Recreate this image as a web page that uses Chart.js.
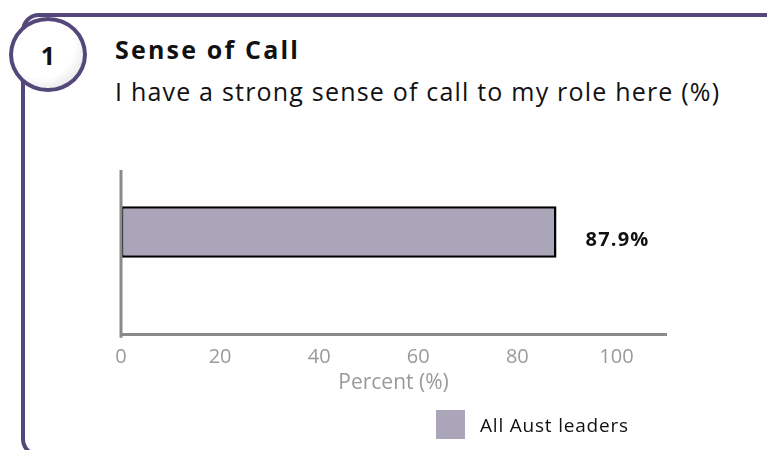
<!DOCTYPE html>
<html>
<head>
<meta charset="utf-8">
<script src="https://cdn.jsdelivr.net/npm/chart.js@4"></script>
<style>
    html, body { margin: 0; padding: 0; background: #fff; }
    body { width: 767px; height: 450px; position: relative; overflow: hidden; font-family: 'Open Sans', sans-serif; }
    .frame {
        position: absolute; left: 21px; top: 13px; width: 770px; height: 444px;
        border: 4px solid #54487a; border-radius: 18px; box-sizing: border-box;
    }
    .badge {
        position: absolute; left: 9px; top: 17px; width: 78px; height: 75px;
        border: 4px solid #54487a; border-radius: 50%; box-sizing: border-box;
        background: radial-gradient(circle at 40% 35%, #ffffff 55%, #e4e4e4 85%, #cfcfcf 100%);
        font-weight: bold; font-size: 25px; color: #111;
        display: flex; align-items: center; justify-content: center;
    }
    .title { position: absolute; left: 115px; top: 32px; font-size: 25px; font-weight: bold; letter-spacing: 2.2px; color: #111; }
    .subtitle { position: absolute; left: 115px; top: 74px; font-size: 25px; letter-spacing: 1.2px; color: #111; }
    .legend { position: absolute; left: 436px; top: 410px; display: flex; align-items: center; font-size: 19px; letter-spacing: 0.8px; color: #111; }
    .legend .swatch { width: 29px; height: 29px; background: #aba5ba; margin-right: 15px; }
    #chart { position: absolute; left: 0; top: 0; }
</style>
</head>
<body>
<div class="frame"></div>
<div class="badge">1</div>
<div class="title">Sense of Call</div>
<div class="subtitle">I have a strong sense of call to my role here (%)</div>
<canvas id="chart" width="767" height="450"></canvas>
<div class="legend"><div class="swatch"></div><span>All Aust leaders</span></div>

<script>
const categories = [''];
const seriesName = 'All Aust leaders';
const values = [87.9];
const tickValues = [0, 20, 40, 60, 80, 100];

// draws the grey y axis line and the value label beside the bar
const extras = {
    id: 'extras',
    afterDatasetsDraw(chart) {
        const ctx = chart.ctx;
        const x0 = chart.scales.x.getPixelForValue(0);
        const bottom = chart.chartArea.bottom;
        ctx.save();
        ctx.strokeStyle = '#8a8a8a';
        ctx.lineWidth = 3;
        ctx.beginPath();
        ctx.moveTo(x0, 170);
        ctx.lineTo(x0, bottom + 3);
        ctx.stroke();

        const meta = chart.getDatasetMeta(0);
        meta.data.forEach((bar, i) => {
            ctx.fillStyle = '#111';
            ctx.font = 'bold 20px "Open Sans", sans-serif';
            ctx.letterSpacing = '1.2px';
            ctx.textAlign = 'left';
            ctx.textBaseline = 'middle';
            ctx.fillText(values[i].toFixed(1) + '%', bar.x + 29, bar.y + 8);
        });
        ctx.restore();
    }
};

new Chart(document.getElementById('chart').getContext('2d'), {
    type: 'bar',
    data: {
        labels: categories,
        datasets: [{
            label: seriesName,
            data: values,
            backgroundColor: '#aba5ba',
            borderColor: '#000',
            borderWidth: 2.5,
            borderSkipped: false,
            barPercentage: 0.25,
            categoryPercentage: 1
        }]
    },
    options: {
        indexAxis: 'y',
        responsive: false,
        animation: false,
        layout: { padding: { left: 113, right: 101, top: 129, bottom: 54 } },
        plugins: { legend: { display: false }, tooltip: { enabled: false } },
        scales: {
            x: {
                min: 0, max: 110,
                afterBuildTicks: (axis) => { axis.ticks = tickValues.map(v => ({ value: v })); },
                grid: { display: false },
                border: { color: '#8a8a8a', width: 3 },
                ticks: { color: '#9a9a9a', font: { size: 20, family: 'Open Sans' }, padding: 2 },
                title: { display: true, text: 'Percent (%)', color: '#9a9a9a', font: { size: 21, family: 'Open Sans' }, padding: 0 }
            },
            y: {
                ticks: { display: false },
                grid: { display: false },
                border: { display: false }
            }
        }
    },
    plugins: [extras]
});
</script>
</body>
</html>
